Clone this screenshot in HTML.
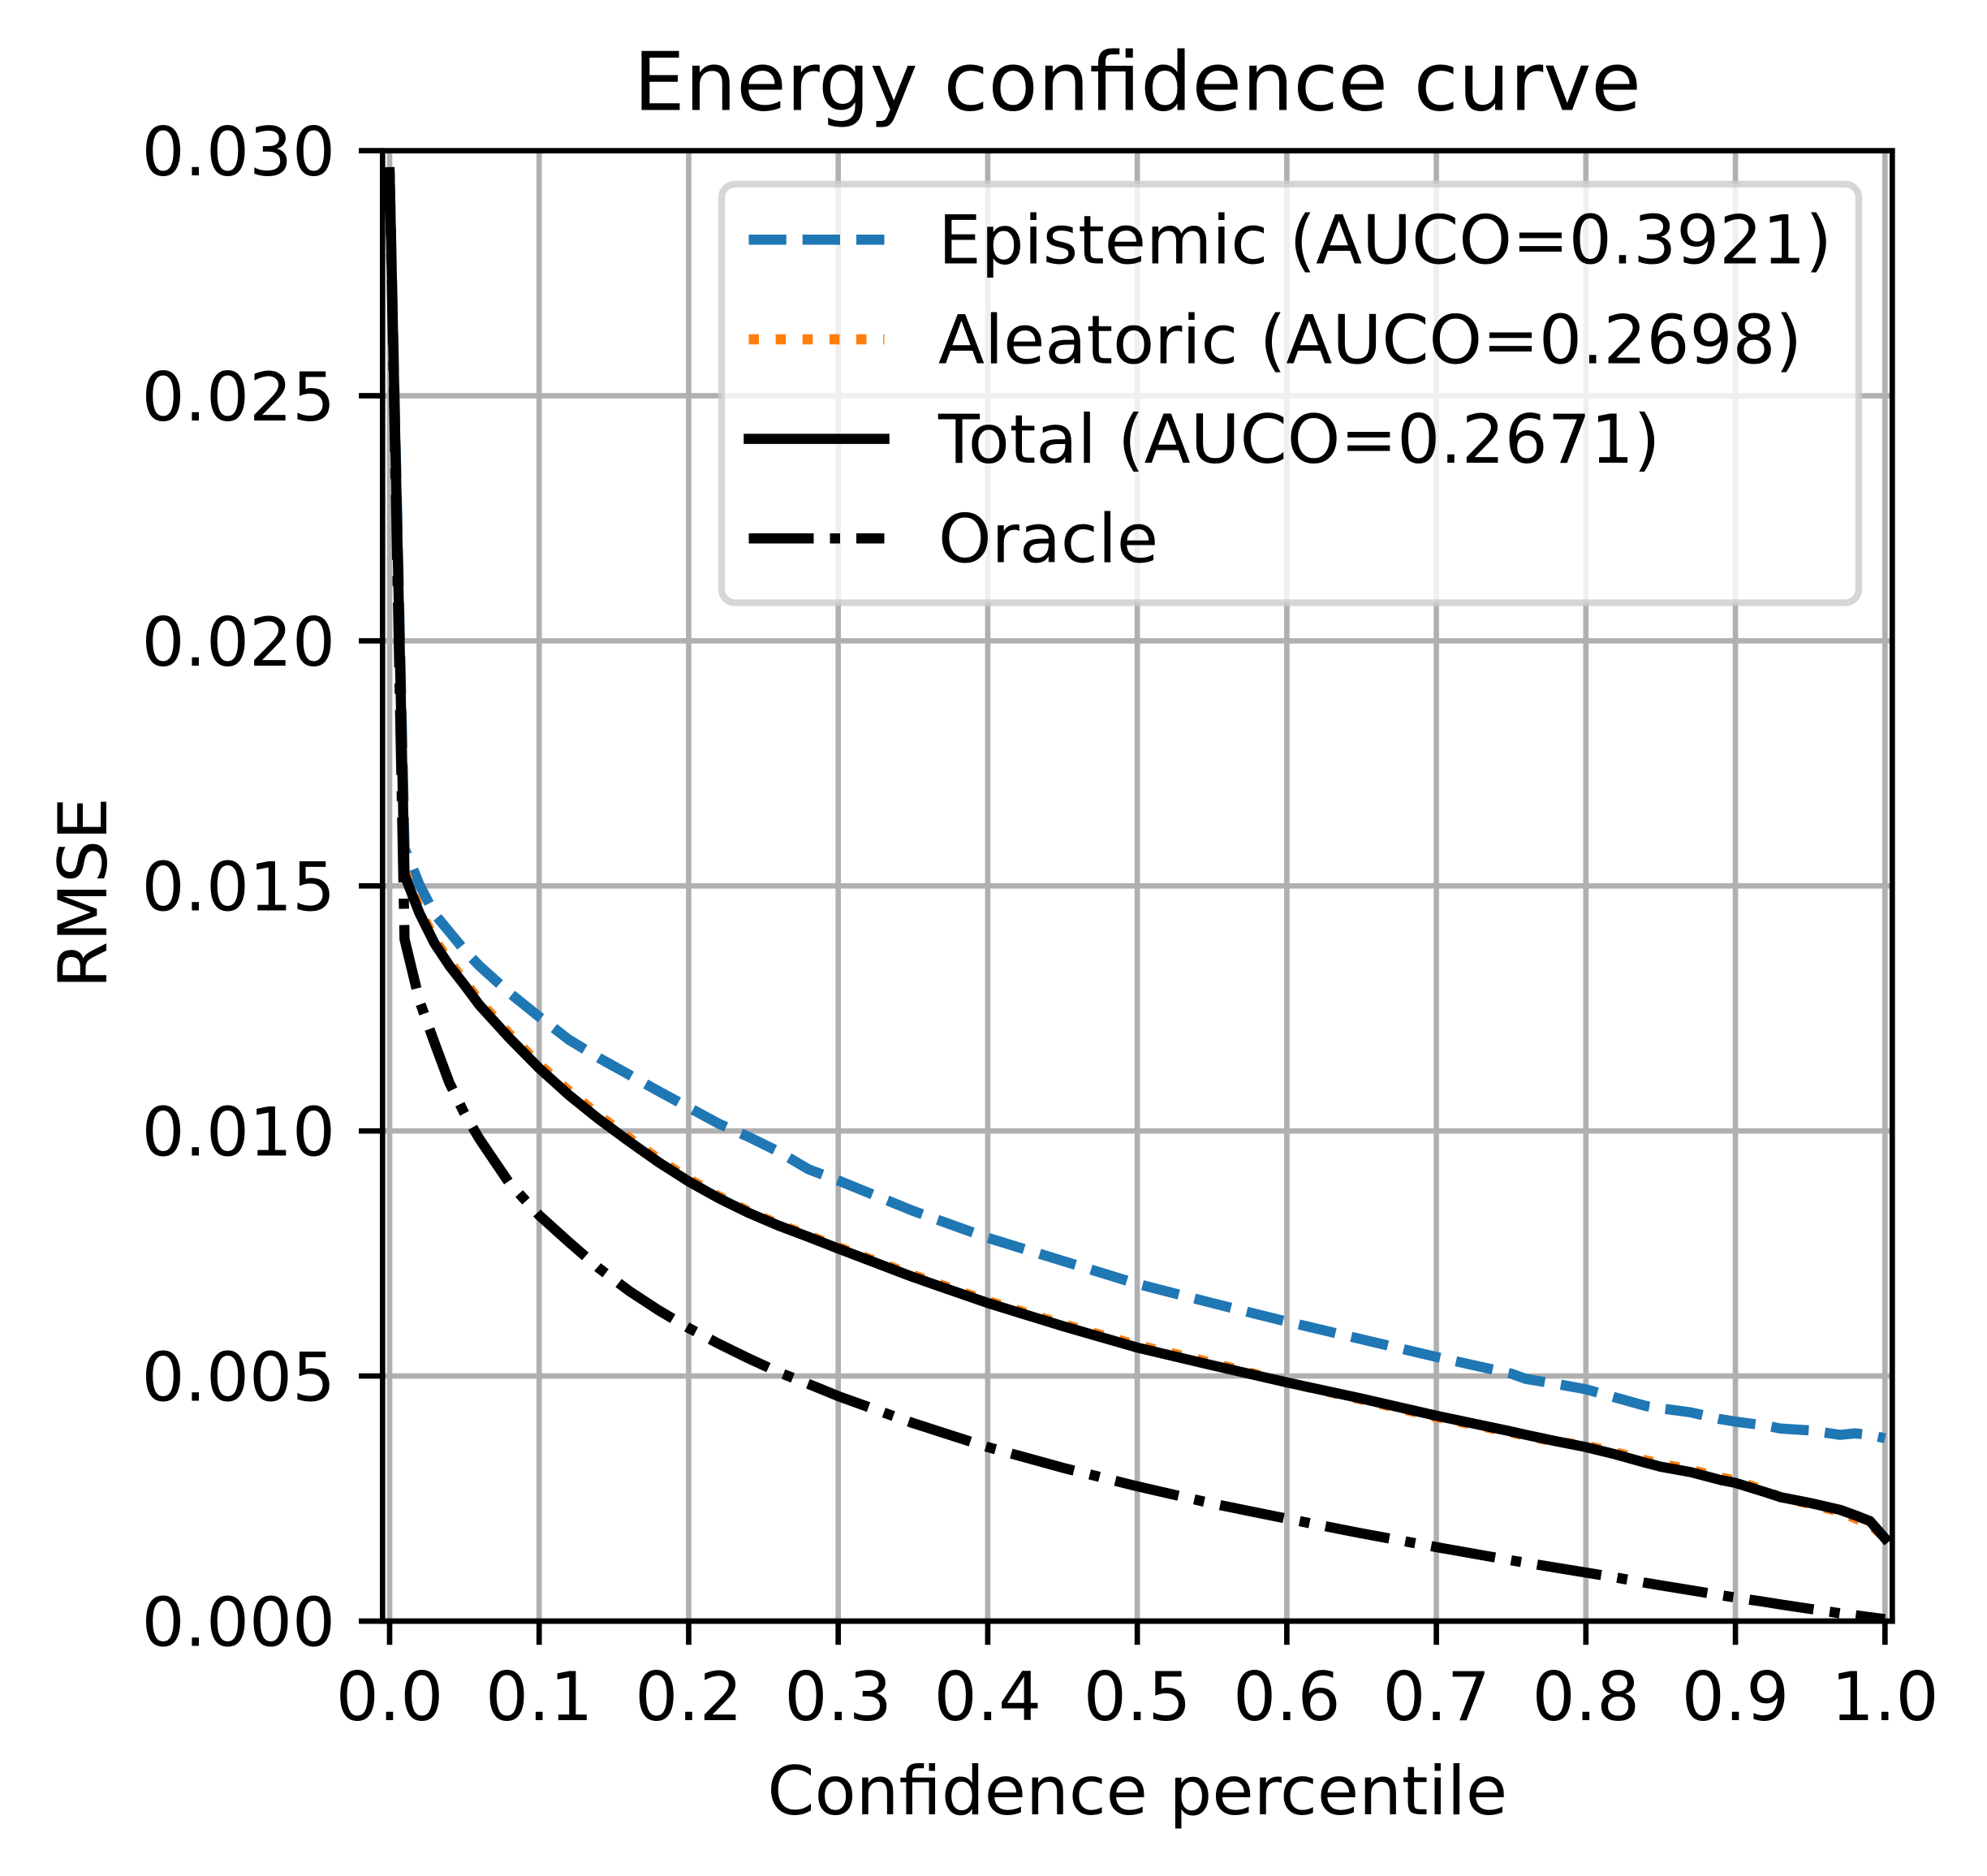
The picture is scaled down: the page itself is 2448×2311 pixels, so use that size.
<!DOCTYPE html>
<html lang="en">
<head>
<meta charset="utf-8">
<title>Energy confidence curve</title>
<style>
  html, body { margin: 0; padding: 0; background: #fff; }
  #chart { display: block; width: 2448px; height: 2311px; }
  text { font-family: "DejaVu Sans", "Liberation Sans", sans-serif; fill: #000; }
</style>
</head>
<body>
<svg id="chart" xmlns="http://www.w3.org/2000/svg" width="2448" height="2311" viewBox="0 0 2448 2311">
  <defs>
    <clipPath id="plot-clip"><rect x="471.3" y="185.7" width="1860" height="1811.3"></rect></clipPath>
  </defs>
  <rect x="0" y="0" width="2448" height="2311" fill="#fff"></rect>
  <g id="grid"></g>
  <g id="series" clip-path="url(#plot-clip)"></g>
  <g id="axes"></g>
  <text x="1401.3" y="135.7" font-size="100" text-anchor="middle">Energy confidence curve</text>
  <text x="1401.3" y="2235" font-size="83.33" text-anchor="middle">Confidence percentile</text>
  <text x="131" y="1100" font-size="83.33" text-anchor="middle" transform="rotate(-90 131 1100)">RMSE</text>
  <g>
    <rect x="889" y="226.8" width="1401" height="515.7" rx="16.67" ry="16.67" fill="#fff" fill-opacity="0.8" stroke="#ccc" stroke-opacity="0.8" stroke-width="8.33"></rect>
    <line x1="922.5" x2="1089.5" y1="295.2" y2="295.2" stroke="#1f77b4" stroke-width="12.5" stroke-dasharray="46.25 20"></line>
    <text x="1156" y="324.7" font-size="83.33">Epistemic (AUCO=0.3921)</text>
    <line x1="922.5" x2="1089.5" y1="418" y2="418" stroke="#ff7f0e" stroke-width="12.5" stroke-dasharray="12.5 20.62"></line>
    <text x="1156" y="447.3" font-size="83.33">Aleatoric (AUCO=0.2698)</text>
    <line x1="922.5" x2="1089.5" y1="540.6" y2="540.6" stroke="#000" stroke-width="12.5" stroke-linecap="square"></line>
    <text x="1156" y="570" font-size="83.33">Total (AUCO=0.2671)</text>
    <line x1="922.5" x2="1089.5" y1="663.2" y2="663.2" stroke="#000" stroke-width="12.5" stroke-dasharray="80 20 12.5 20"></line>
    <text x="1156" y="692.5" font-size="83.33">Oracle</text>
  </g>
</svg>
<script>
const confidencePercentiles = [0,0.01,0.02,0.03,0.04,0.05,0.06,0.08,0.10,0.12,0.14,0.16,0.18,0.20,0.22,0.24,0.26,0.28,0.30,0.35,0.40,0.45,0.50,0.55,0.60,0.65,0.70,0.75,0.76,0.78,0.80,0.82,0.84,0.85,0.87,0.89,0.90,0.92,0.93,0.95,0.97,0.98,0.99,1.0];
const epistemicRmse = [0.02956,0.01577,0.01502,0.01443,0.01406,0.01369,0.01337,0.01282,0.01233,0.01186,0.01149,0.01115,0.01081,0.01048,0.01015,0.00988,0.00958,0.00922,0.00899,0.00837,0.00782,0.00735,0.00688,0.00649,0.00611,0.00575,0.00539,0.00505,0.00494,0.00484,0.00473,0.00456,0.00439,0.00434,0.00426,0.00412,0.00407,0.00399,0.00393,0.00389,0.0038,0.00383,0.0038,0.00373];
const aleatoricRmse = [0.02956,0.0153,0.01452,0.01391,0.01345,0.01306,0.01265,0.01198,0.01136,0.01081,0.01032,0.00986,0.00942,0.00902,0.00867,0.00836,0.0081,0.00787,0.00763,0.00706,0.00653,0.00606,0.00563,0.00527,0.00487,0.00452,0.00416,0.00385,0.00378,0.00366,0.00358,0.00344,0.00328,0.00321,0.00309,0.00293,0.00287,0.00266,0.00253,0.00239,0.00223,0.0021,0.00198,0.0017];
const totalRmse = [0.02956,0.01522,0.01444,0.01383,0.01337,0.01298,0.01257,0.0119,0.01128,0.01073,0.01024,0.00979,0.00936,0.00897,0.00863,0.00833,0.00807,0.00784,0.0076,0.00702,0.00649,0.00602,0.00558,0.00522,0.00487,0.00454,0.00419,0.00387,0.0038,0.00367,0.00355,0.0034,0.00323,0.00315,0.00304,0.00288,0.00282,0.00263,0.00253,0.00241,0.00227,0.00216,0.00204,0.00169];
const oracleRmse = [0.02956,0.01391,0.01265,0.0118,0.01098,0.01036,0.00984,0.00894,0.00828,0.00773,0.0072,0.00674,0.00634,0.00598,0.00566,0.00536,0.00508,0.00484,0.00459,0.00404,0.00355,0.00313,0.00275,0.0024,0.00209,0.00179,0.00151,0.00124,0.00119,0.00109,0.00099,0.00089,0.00078,0.00073,0.00063,0.00053,0.00048,0.00039,0.00034,0.00025,0.00016,0.00012,0.00008,0.00004];
const xTickValues = [0,0.1,0.2,0.3,0.4,0.5,0.6,0.7,0.8,0.9,1.0];
const xTickLabels = ["0.0","0.1","0.2","0.3","0.4","0.5","0.6","0.7","0.8","0.9","1.0"];
const yTickValues = [0,0.005,0.01,0.015,0.02,0.025,0.03];
const yTickLabels = ["0.000","0.005","0.010","0.015","0.020","0.025","0.030"];

const SVG_NS = "http://www.w3.org/2000/svg";
const PLOT = { left: 471.3, right: 2331.3, top: 185.7, bottom: 1997 };

function xScale(v) { return 480 + v * 1842.3; }
function yScale(v) { return 1997 - v * 60380; }

function make(tag, attrs, parent) {
  const el = document.createElementNS(SVG_NS, tag);
  for (const k in attrs) el.setAttribute(k, attrs[k]);
  parent.appendChild(el);
  return el;
}

const gridGroup = document.getElementById("grid");
const seriesGroup = document.getElementById("series");
const axesGroup = document.getElementById("axes");

xTickValues.forEach(function (v, i) {
  const px = xScale(v);
  const gridLine = make("line", { x1: px, x2: px, y1: PLOT.top, y2: PLOT.bottom, stroke: "#b0b0b0", "stroke-width": 6.67 }, gridGroup);
  
  
  const tick = make("line", { x1: px, x2: px, y1: PLOT.bottom, y2: PLOT.bottom + 29.2, stroke: "#000", "stroke-width": 6.67 }, axesGroup);
  
  
  const label = make("text", { x: px, y: 2119, "font-size": 83.33, "text-anchor": "middle" }, axesGroup);
  
  
  label.textContent = xTickLabels[i];
});

yTickValues.forEach(function (v, i) {
  const py = yScale(v);
  const gridLine = make("line", { x1: PLOT.left, x2: PLOT.right, y1: py, y2: py, stroke: "#b0b0b0", "stroke-width": 6.67 }, gridGroup);
  
  
  const tick = make("line", { x1: PLOT.left - 29.2, x2: PLOT.left, y1: py, y2: py, stroke: "#000", "stroke-width": 6.67 }, axesGroup);
  
  
  const label = make("text", { x: 413, y: py + 30.4, "font-size": 83.33, "text-anchor": "end" }, axesGroup);
  
  
  label.textContent = yTickLabels[i];
});

function linePath(values) {
  return values.map(function (v, i) {
    return (i ? "L" : "M") + xScale(confidencePercentiles[i]).toFixed(2) + " " + yScale(v).toFixed(2);
  }).join(" ");
}

const epistemicLine = make("path", { d: linePath(epistemicRmse), fill: "none", stroke: "#1f77b4", "stroke-width": 12.5, "stroke-linejoin": "round", "stroke-dasharray": "46.25 20" }, seriesGroup);



const aleatoricLine = make("path", { d: linePath(aleatoricRmse), fill: "none", stroke: "#ff7f0e", "stroke-width": 12.5, "stroke-linejoin": "round", "stroke-dasharray": "12.5 20.62" }, seriesGroup);



const totalLine = make("path", { d: linePath(totalRmse), fill: "none", stroke: "#000", "stroke-width": 12.5, "stroke-linejoin": "round", "stroke-linecap": "square" }, seriesGroup);



const oracleLine = make("path", { d: linePath(oracleRmse), fill: "none", stroke: "#000", "stroke-width": 12.5, "stroke-linejoin": "round", "stroke-dasharray": "80 20 12.5 20" }, seriesGroup);



const leftSpine = make("line", { x1: PLOT.left, x2: PLOT.left, y1: PLOT.top - 3.33, y2: PLOT.bottom + 3.33, stroke: "#000", "stroke-width": 6.67 }, axesGroup);


const rightSpine = make("line", { x1: PLOT.right, x2: PLOT.right, y1: PLOT.top - 3.33, y2: PLOT.bottom + 3.33, stroke: "#000", "stroke-width": 6.67 }, axesGroup);


const topSpine = make("line", { x1: PLOT.left - 3.33, x2: PLOT.right + 3.33, y1: PLOT.top, y2: PLOT.top, stroke: "#000", "stroke-width": 6.67 }, axesGroup);


const bottomSpine = make("line", { x1: PLOT.left - 3.33, x2: PLOT.right + 3.33, y1: PLOT.bottom, y2: PLOT.bottom, stroke: "#000", "stroke-width": 6.67 }, axesGroup);


</script>
</body>
</html>
